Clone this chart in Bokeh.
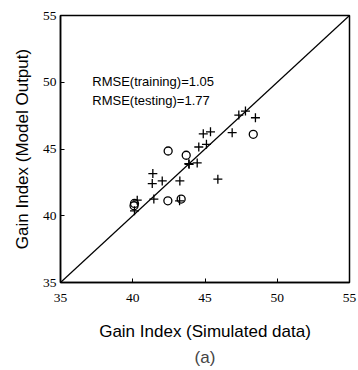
from bokeh.plotting import figure
from bokeh.models import Range1d, Label, Title, FixedTicker
from bokeh.embed import file_html
from bokeh.resources import INLINE

train_x = [47.34, 47.80, 48.49, 44.88, 45.38, 46.88, 44.57, 45.10, 43.88, 44.46,
           41.39, 41.35, 42.04, 43.26, 45.89, 41.46, 40.31, 40.12, 43.24, 43.90]
train_y = [47.54, 47.84, 47.34, 46.14, 46.29, 46.22, 45.15, 45.35, 43.90, 43.96,
           43.16, 42.41, 42.61, 42.61, 42.74, 41.25, 41.17, 40.37, 41.12, 43.85]
test_x = [48.34, 42.45, 43.70, 42.43, 43.35, 40.12, 40.09]
test_y = [46.10, 44.85, 44.53, 41.12, 41.25, 40.92, 40.75]
line_x = [35, 55]
line_y = [35, 55]
ticks = [35, 40, 45, 50, 55]
rmse_texts = ["RMSE(training)=1.05", "RMSE(testing)=1.77"]

p = figure(frame_width=289, frame_height=267, output_backend="svg", toolbar_location=None,
           x_range=Range1d(35, 55), y_range=Range1d(35, 55),
           min_border_left=60, min_border_top=15, min_border_right=8, min_border_bottom=10)
p.background_fill_color = "white"
p.border_fill_color = "white"
p.outline_line_color = "black"
p.outline_line_width = 1.5
p.grid.visible = False

for ax in p.axis:
    ax.ticker = FixedTicker(ticks=ticks)
    ax.major_tick_in = 4
    ax.major_tick_out = 0
    ax.minor_tick_in = 0
    ax.minor_tick_out = 0
    ax.axis_line_color = "black"
    ax.axis_line_width = 1.5
    ax.major_label_text_font = "Liberation Serif"
    ax.major_label_text_font_size = "13.5px"
    ax.major_label_text_color = "black"
    ax.axis_label_text_font = "Liberation Sans"
    ax.axis_label_text_font_size = "17px"
    ax.axis_label_text_font_style = "normal"
    ax.axis_label_text_color = "black"

p.xaxis.axis_label = "Gain Index (Simulated data)"
p.yaxis.axis_label = "Gain Index (Model Output)"
p.xaxis.axis_label_standoff = 17
p.yaxis.axis_label_standoff = 8
p.xaxis.major_label_standoff = 11
p.yaxis.major_label_standoff = 4

p.line(line_x, line_y, line_color="black", line_width=1.2)
p.scatter(train_x, train_y, marker="cross", size=9, line_color="black", line_width=1.3)
p.scatter(test_x, test_y, marker="circle", size=8, line_color="black", fill_color=None, line_width=1.3)

for txt, yy in zip(rmse_texts, [50.07, 48.66]):
    p.add_layout(Label(x=37.2, y=yy, text=txt, text_font="Liberation Sans",
                       text_font_size="13px", text_baseline="middle", text_color="black"))

p.add_layout(Title(text="(a)", align="center", text_font="Liberation Sans",
                   text_font_size="17px", text_font_style="normal", standoff=5), "below")

open("out.html", "w").write(file_html(p, INLINE))
